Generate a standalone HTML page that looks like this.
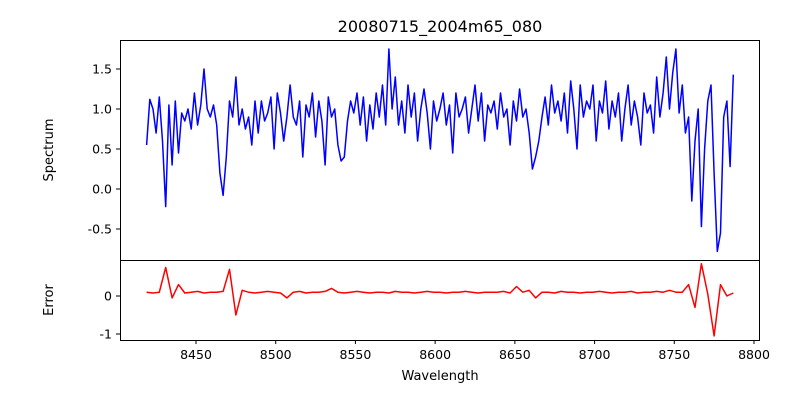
<!DOCTYPE html>
<html><head><meta charset="utf-8"><style>
body{margin:0;background:#fff;}
svg{display:block;font-family:"DejaVu Sans","Liberation Sans",sans-serif;}
</style></head><body>
<svg id="c" width="800" height="400"></svg>
<script>
const specStart = 8419, specStep = 2;
const spectrum = [
0.55,1.12,1.0,0.7,1.15,0.6,-0.22,1.05,0.3,1.1,
0.45,0.95,0.85,1.0,0.75,1.2,0.8,1.05,1.5,1.0,
0.9,1.05,0.8,0.2,-0.08,0.4,1.1,0.9,1.4,0.8,
1.0,0.75,0.9,0.55,1.1,0.7,1.1,0.85,0.95,1.15,
0.5,1.2,0.95,0.6,0.9,1.3,0.9,0.8,1.1,0.4,
1.05,0.9,1.2,0.65,1.1,0.85,0.3,1.15,0.9,1.0,
0.55,0.35,0.4,0.85,1.1,0.95,1.2,0.8,1.15,0.6,
1.05,0.75,1.2,0.9,1.3,0.8,1.75,1.0,1.4,0.8,
1.1,0.7,1.3,0.9,1.2,0.6,1.0,1.25,0.95,0.5,
1.1,0.85,1.0,1.2,0.8,1.05,0.45,1.2,0.9,1.0,
1.15,0.7,1.0,1.3,0.85,1.2,0.6,1.05,0.95,1.1,
0.75,1.2,0.9,1.0,0.55,1.1,0.85,1.25,0.9,1.0,
0.7,0.25,0.4,0.6,0.9,1.15,0.8,1.3,0.95,1.1,
0.85,1.2,0.7,1.35,1.0,0.5,1.3,0.9,1.1,1.0,
1.3,0.6,1.1,0.95,1.35,0.75,1.1,0.9,1.2,0.6,
1.0,1.3,0.8,1.1,0.9,0.55,1.2,0.95,1.05,0.7,
1.4,0.9,1.2,1.65,1.0,1.45,1.75,0.95,1.3,0.7,
0.9,-0.15,0.6,1.0,-0.47,0.5,1.1,1.3,0.2,-0.78,
-0.55,0.9,1.1,0.28,1.43];
const errStart = 8419, errStep = 4;
const errors = [
0.1,0.08,0.1,0.75,-0.05,0.3,0.08,0.1,0.12,0.08,
0.1,0.1,0.12,0.7,-0.5,0.15,0.1,0.08,0.1,0.12,
0.1,0.08,-0.05,0.1,0.12,0.08,0.1,0.1,0.12,0.2,
0.1,0.08,0.1,0.12,0.1,0.08,0.1,0.1,0.08,0.12,
0.1,0.1,0.08,0.1,0.12,0.1,0.1,0.08,0.1,0.1,
0.12,0.1,0.08,0.1,0.1,0.1,0.12,0.08,0.25,0.1,
0.15,-0.05,0.1,0.1,0.08,0.12,0.1,0.1,0.08,0.1,
0.1,0.12,0.1,0.08,0.1,0.1,0.12,0.08,0.1,0.1,
0.12,0.1,0.15,0.1,0.1,0.3,-0.3,0.85,0.05,-1.05,
0.3,0.0,0.08];
const xTicks = [8450,8500,8550,8600,8650,8700,8750,8800];
const topTicks = [-0.5,0.0,0.5,1.0,1.5];
const botTicks = [-1,0];

const NS="http://www.w3.org/2000/svg", svg=document.getElementById('c');
function mk(t,a,txt){const e=document.createElementNS(NS,t);for(const k in a)e.setAttribute(k,a[k]);if(txt!=null)e.textContent=txt;svg.appendChild(e);return e;}
const X=w=>196+(w-8450)*558/350;
const Yt=v=>189-80*v;
const Yb=v=>296-38*v;

let e;
e=mk('text',{x:440,y:32,'text-anchor':'middle','font-size':16},'20080715_2004m65_080');


function line(arr,start,step,Y,col,name){
  let d=arr.map((v,i)=>(i?'L':'M')+X(start+i*step).toFixed(1)+' '+Y(v).toFixed(1)).join(' ');
  const p=mk('path',{d:d,fill:'none',stroke:col,'stroke-width':1.5,'stroke-linejoin':'round'});
  
  
}
line(spectrum,specStart,specStep,Yt,'#0000ff','spectrum-line');
line(errors,errStart,errStep,Yb,'#ff0000','error-line');

e=mk('rect',{x:120.5,y:40.5,width:639,height:220,fill:'none',stroke:'#000','stroke-width':1});

e=mk('rect',{x:120.5,y:260.5,width:639,height:80,fill:'none',stroke:'#000','stroke-width':1});


topTicks.forEach(v=>{const y=Yt(v);
  mk('line',{x1:116,x2:120,y1:y,y2:y,stroke:'#000'});
  e=mk('text',{x:112,y:y+4.5,'text-anchor':'end','font-size':12.5},v.toFixed(1));
  });
botTicks.forEach(v=>{const y=Yb(v);
  mk('line',{x1:116,x2:120,y1:y,y2:y,stroke:'#000'});
  e=mk('text',{x:112,y:y+4.5,'text-anchor':'end','font-size':12.5},String(v));
  });
xTicks.forEach(w=>{const x=X(w);
  mk('line',{x1:x,x2:x,y1:340,y2:344,stroke:'#000'});
  e=mk('text',{x:x,y:359,'text-anchor':'middle','font-size':12.5},String(w));
  });

e=mk('text',{x:440,y:380,'text-anchor':'middle','font-size':13},'Wavelength');

e=mk('text',{x:0,y:0,'text-anchor':'middle','font-size':13,transform:'translate(53,150) rotate(-90)'},'Spectrum');

e=mk('text',{x:0,y:0,'text-anchor':'middle','font-size':13,transform:'translate(53,300) rotate(-90)'},'Error');

</script>
</body></html>
